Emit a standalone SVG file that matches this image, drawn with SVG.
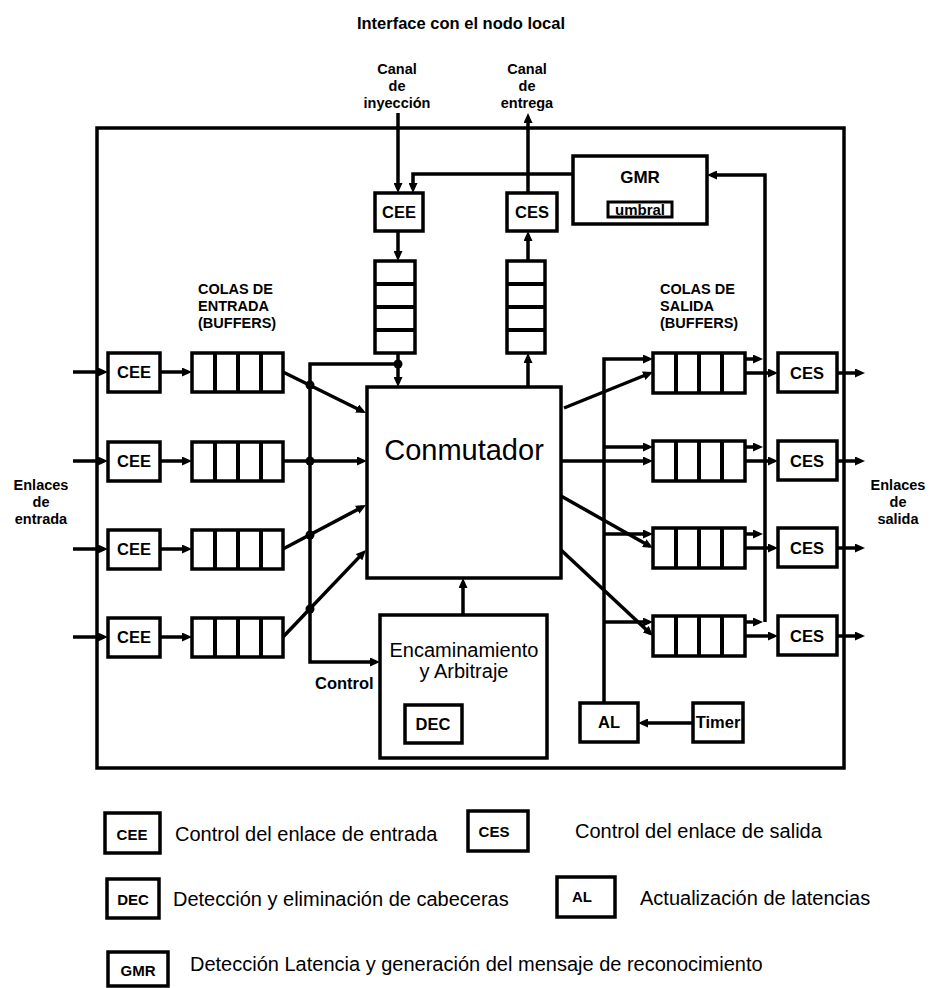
<svg xmlns="http://www.w3.org/2000/svg" width="934" height="988" viewBox="0 0 934 988">
<style>
.b{fill:#fff;stroke:#000;stroke-width:3.5}
.c{fill:none;stroke:#000;stroke-width:3.5}
.a{marker-end:url(#ah)}
.d{stroke:#000;stroke-width:4}
.t{font-family:"Liberation Sans",Arial,sans-serif;font-weight:bold;font-size:16.5px;fill:#000}
.s{font-size:14.5px}
.m{text-anchor:middle}
.r{font-family:"Liberation Sans",Arial,sans-serif;font-size:20px;fill:#000}
.lg{font-size:15px}
</style>
<defs>
<marker id="ah" viewBox="0 0 10 9" refX="6" refY="4.5" markerWidth="10" markerHeight="9" markerUnits="userSpaceOnUse" orient="auto"><path d="M0,0L10,4.5L0,9z" fill="#000"/></marker>
</defs>
<rect width="934" height="988" fill="#fff"/>
<g id="frame"><rect class="b" x="97" y="128" width="747" height="640"/></g>

<g id="labels">
<text class="t m" x="461" y="29">Interface con el nodo local</text>
<text class="t s m" x="397" y="74">Canal</text>
<text class="t s m" x="397" y="91">de</text>
<text class="t s m" x="397" y="108">inyección</text>
<text class="t s m" x="527" y="74">Canal</text>
<text class="t s m" x="527" y="91">de</text>
<text class="t s m" x="527" y="108">entrega</text>
<text class="t s" x="198" y="294">COLAS DE</text>
<text class="t s" x="198" y="311">ENTRADA</text>
<text class="t s" x="198" y="328">(BUFFERS)</text>
<text class="t s" x="660" y="294">COLAS DE</text>
<text class="t s" x="660" y="311">SALIDA</text>
<text class="t s" x="660" y="328">(BUFFERS)</text>
<text class="t s m" x="41" y="490">Enlaces</text>
<text class="t s m" x="41" y="507">de</text>
<text class="t s m" x="41" y="524">entrada</text>
<text class="t s m" x="898" y="490">Enlaces</text>
<text class="t s m" x="898" y="507">de</text>
<text class="t s m" x="898" y="524">salida</text>
<text class="t" x="315" y="689">Control</text>
</g>

<g id="connectors">
<path class="c a" d="M398,113V189"/>
<path class="c a" d="M528,193V117"/>
<path class="c a" d="M573,174H413V189"/>
<path class="c a" d="M398,231V257"/>
<path class="c a" d="M528,261V235"/>
<path class="c a" d="M528,387V357"/>
<path class="c a" d="M398,353V383"/>
<path class="c a" d="M398,364H310V662H376"/>
<path class="c a" d="M463,615V582"/>
<path class="c a" d="M693,723H642"/>
<path class="c a" d="M73,372H104"/>
<path class="c a" d="M73,461H104"/>
<path class="c a" d="M73,549H104"/>
<path class="c a" d="M73,637H104"/>
<path class="c a" d="M160,372H188"/>
<path class="c a" d="M160,461H188"/>
<path class="c a" d="M160,549H188"/>
<path class="c a" d="M160,637H188"/>
<path class="c a" d="M283,372L362.4,411.2"/>
<path class="c a" d="M283,461H363"/>
<path class="c a" d="M283,549L362.5,506.9"/>
<path class="c a" d="M283,637L363.2,552.9"/>
<circle cx="398" cy="364" r="4.5"/>
<circle cx="310" cy="385" r="4.5"/>
<circle cx="310" cy="461" r="4.5"/>
<circle cx="310" cy="535" r="4.5"/>
<circle cx="310" cy="609" r="4.5"/>
<path class="c a" d="M564,408L649.3,373.5"/>
<path class="c a" d="M561,461H649"/>
<path class="c a" d="M561,496L649.5,546"/>
<path class="c a" d="M561,550L650.1,633.3"/>
<path class="c a" d="M604,703V359H649"/>
<path class="c a" d="M604,447H649"/>
<path class="c a" d="M604,534H649"/>
<path class="c a" d="M604,622H649"/>
<path class="c a" d="M765,622V175H711"/>
<path class="c a" d="M745,359H759"/>
<path class="c a" d="M745,447H759"/>
<path class="c a" d="M745,534H759"/>
<path class="c a" d="M745,622H759"/>
<path class="c a" d="M745,373H774"/>
<path class="c a" d="M745,461H774"/>
<path class="c a" d="M745,548H774"/>
<path class="c a" d="M745,636H774"/>
<path class="c a" d="M837,373H861"/>
<path class="c a" d="M837,461H861"/>
<path class="c a" d="M837,548H861"/>
<path class="c a" d="M837,636H861"/>
</g>

<g id="cee-top"><rect class="b" x="375" y="193" width="48" height="38"/><text class="t m" x="399" y="218">CEE</text></g>
<g id="ces-top"><rect class="b" x="507" y="193" width="50" height="38"/><text class="t m" x="532" y="218">CES</text></g>
<g id="gmr"><rect class="b" x="573" y="156" width="134" height="68"/><text class="t m" x="640" y="183" style="font-size:17px">GMR</text>
<rect x="608" y="202" width="64" height="15" fill="#fff" stroke="#000" stroke-width="3"/><text class="t m" x="640" y="215" style="font-size:15px">umbral</text></g>
<g id="queue-in-top"><rect class="b" x="375" y="261" width="40" height="92"/><path class="d" d="M375,284H415M375,307H415M375,330H415"/></g>
<g id="queue-out-top"><rect class="b" x="507" y="261" width="38" height="92"/><path class="d" d="M507,284H545M507,307H545M507,330H545"/></g>

<g id="cee1"><rect class="b" x="108" y="353" width="52" height="39"/><text class="t m" x="134" y="378">CEE</text></g>
<g id="cee2"><rect class="b" x="108" y="442" width="52" height="39"/><text class="t m" x="134" y="467">CEE</text></g>
<g id="cee3"><rect class="b" x="108" y="530" width="52" height="39"/><text class="t m" x="134" y="555">CEE</text></g>
<g id="cee4"><rect class="b" x="108" y="618" width="52" height="39"/><text class="t m" x="134" y="643">CEE</text></g>

<g id="qin1"><rect class="b" x="192" y="353" width="91" height="39"/><path class="d" d="M215,353V392M238,353V392M261,353V392"/></g>
<g id="qin2"><rect class="b" x="192" y="442" width="91" height="39"/><path class="d" d="M215,442V481M238,442V481M261,442V481"/></g>
<g id="qin3"><rect class="b" x="192" y="530" width="91" height="39"/><path class="d" d="M215,530V569M238,530V569M261,530V569"/></g>
<g id="qin4"><rect class="b" x="192" y="618" width="91" height="39"/><path class="d" d="M215,618V657M238,618V657M261,618V657"/></g>

<g id="conmutador"><rect class="b" x="367" y="387" width="194" height="191"/><text x="464" y="460" text-anchor="middle" style="font-family:'Liberation Sans',Arial,sans-serif;font-size:29px">Conmutador</text></g>

<g id="encaminamiento"><rect class="b" x="380" y="615" width="167" height="143"/>
<text class="r m" x="464" y="657">Encaminamiento</text><text class="r m" x="464" y="678">y Arbitraje</text></g>
<g id="dec"><rect class="b" x="405" y="705" width="57" height="38"/><text class="t m" x="433" y="730">DEC</text></g>

<g id="qout1"><rect class="b" x="653" y="353" width="92" height="40"/><path class="d" d="M676,353V393M699,353V393M722,353V393"/></g>
<g id="qout2"><rect class="b" x="653" y="441" width="92" height="40"/><path class="d" d="M676,441V481M699,441V481M722,441V481"/></g>
<g id="qout3"><rect class="b" x="653" y="528" width="92" height="40"/><path class="d" d="M676,528V568M699,528V568M722,528V568"/></g>
<g id="qout4"><rect class="b" x="653" y="616" width="92" height="40"/><path class="d" d="M676,616V656M699,616V656M722,616V656"/></g>

<g id="ces1"><rect class="b" x="778" y="353" width="59" height="39"/><text class="t m" x="807" y="379">CES</text></g>
<g id="ces2"><rect class="b" x="778" y="441" width="59" height="39"/><text class="t m" x="807" y="467">CES</text></g>
<g id="ces3"><rect class="b" x="778" y="528" width="59" height="39"/><text class="t m" x="807" y="554">CES</text></g>
<g id="ces4"><rect class="b" x="778" y="616" width="59" height="39"/><text class="t m" x="807" y="642">CES</text></g>

<g id="al"><rect class="b" x="580" y="703" width="58" height="39"/><text class="t m" x="609" y="728">AL</text></g>
<g id="timer"><rect class="b" x="693" y="703" width="50" height="39"/><text class="t m" x="718" y="728">Timer</text></g>

<g id="legend">
<rect class="b" x="105" y="813" width="55" height="40"/><text class="t m lg" x="132" y="840">CEE</text>
<text class="r" x="175" y="841">Control del enlace de entrada</text>
<rect class="b" x="468" y="811" width="60" height="40"/><text class="t m lg" x="494" y="837">CES</text>
<text class="r" x="575" y="838">Control del enlace de salida</text>
<rect class="b" x="107" y="879" width="52" height="39"/><text class="t m lg" x="133" y="905">DEC</text>
<text class="r" x="173" y="906">Detección y eliminación de cabeceras</text>
<rect class="b" x="557" y="877" width="58" height="40"/><text class="t m lg" x="582" y="902">AL</text>
<text class="r" x="640" y="905">Actualización de latencias</text>
<rect class="b" x="108" y="952" width="60" height="34"/><text class="t m lg" x="138" y="976">GMR</text>
<text class="r" x="190" y="971">Detección Latencia y generación del mensaje de reconocimiento</text>
</g>
</svg>
